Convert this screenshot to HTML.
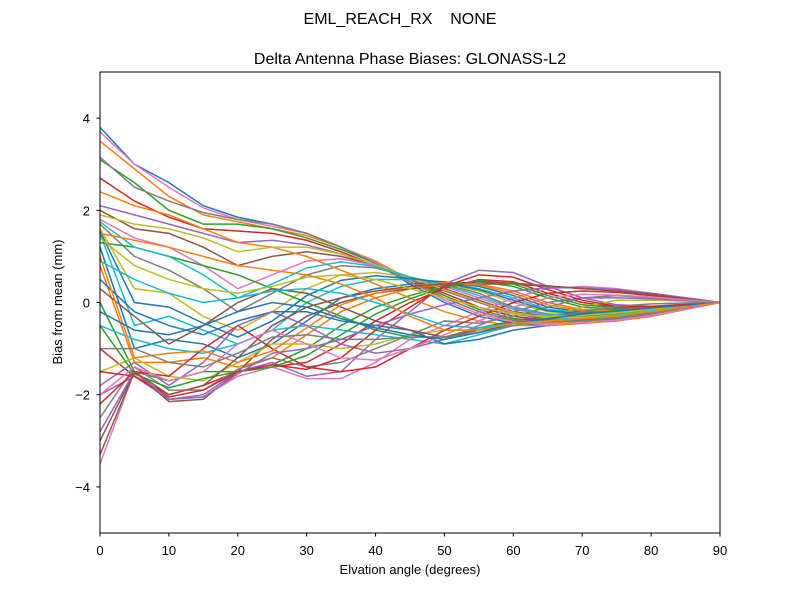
<!DOCTYPE html>
<html><head><meta charset="utf-8"><style>
body{margin:0;background:#fff;font-family:"Liberation Sans",sans-serif;}
svg text{font-family:"Liberation Sans",sans-serif;}
</style></head><body>
<svg id="chart" width="800" height="600" xmlns="http://www.w3.org/2000/svg">
<rect width="800" height="600" fill="#fff"/>
<text x="400" y="24" text-anchor="middle" font-size="16" style="white-space:pre" xml:space="preserve">EML_REACH_RX    NONE</text>
<text x="410" y="64" text-anchor="middle" font-size="16">Delta Antenna Phase Biases: GLONASS-L2</text>
<g id="lines"></g>
<rect x="100" y="72" width="620" height="461" fill="none" stroke="#000" stroke-width="1"/>
<g id="axes"></g>
<text x="410" y="574" text-anchor="middle" font-size="13">Elvation angle (degrees)</text>
<text transform="translate(62,302) rotate(-90)" text-anchor="middle" font-size="13">Bias from mean (mm)</text>
</svg>
<script>
const elevations=[0,5,10,15,20,25,30,35,40,45,50,55,60,65,70,75,80,85,90];
const xTicks=[0,10,20,30,40,50,60,70,80,90];
const yTicks=[-4,-2,0,2,4];
const yTickLabels=["\u22124","\u22122","0","2","4"];
const s1=[3.8,3.0,2.6,2.1,1.85,1.7,1.5,1.2,0.85,0.4,0.0,-0.3,-0.45,-0.5,-0.45,-0.4,-0.3,-0.15,0];
const s2=[3.5,2.9,2.3,1.9,1.75,1.6,1.45,1.2,0.9,0.5,0.1,-0.2,-0.4,-0.45,-0.4,-0.35,-0.25,-0.12,0];
const s3=[3.1,2.6,2.0,1.7,1.7,1.6,1.4,1.15,0.85,0.5,0.15,-0.15,-0.35,-0.4,-0.38,-0.32,-0.22,-0.1,0];
const s4=[2.7,2.2,1.85,1.6,1.55,1.5,1.35,1.1,0.8,0.5,0.2,-0.1,-0.3,-0.38,-0.35,-0.3,-0.2,-0.1,0];
const s5=[2.1,1.9,1.7,1.5,1.3,1.35,1.25,1.05,0.8,0.5,0.25,0,-0.25,-0.35,-0.33,-0.28,-0.2,-0.1,0];
const s6=[2.0,1.6,1.5,1.2,0.8,1.0,1.1,1.0,0.8,0.55,0.3,0.05,-0.2,-0.3,-0.3,-0.26,-0.18,-0.08,0];
const s7=[1.8,1.4,1.2,0.8,0.3,0.6,0.9,0.95,0.8,0.55,0.35,0.1,-0.15,-0.28,-0.28,-0.24,-0.17,-0.08,0];
const s8=[1.7,1.0,0.7,0.3,-0.2,0.2,0.6,0.8,0.75,0.55,0.4,0.2,-0.1,-0.25,-0.26,-0.22,-0.15,-0.07,0];
const s9=[1.6,0.3,0.2,-0.3,-0.6,-0.2,0.3,0.6,0.65,0.55,0.4,0.25,0,-0.2,-0.25,-0.2,-0.14,-0.07,0];
const s10=[1.5,-0.5,-0.3,-0.6,-0.9,-0.6,0,0.35,0.5,0.5,0.45,0.3,0.1,-0.15,-0.22,-0.2,-0.14,-0.07,0];
const s11=[1.2,-1.0,-0.8,-0.9,-1.2,-0.9,-0.4,0.1,0.3,0.4,0.45,0.35,0.15,-0.1,-0.2,-0.18,-0.13,-0.06,0];
const s12=[0.8,-1.3,-1.3,-1.2,-1.4,-1.2,-0.7,-0.2,0.1,0.3,0.4,0.4,0.25,0,-0.15,-0.17,-0.12,-0.06,0];
const s13=[0.0,-1.5,-1.7,-1.5,-1.5,-1.35,-1.0,-0.5,-0.1,0.15,0.35,0.45,0.35,0.1,-0.1,-0.15,-0.11,-0.05,0];
const s14=[-1.0,-1.6,-2.0,-1.8,-1.5,-1.4,-1.3,-0.9,-0.4,0,0.3,0.5,0.45,0.2,0,-0.1,-0.1,-0.05,0];
const s15=[-2.0,-1.6,-2.1,-2.0,-1.5,-1.3,-1.6,-1.5,-0.8,-0.2,0.4,0.7,0.65,0.35,0.1,-0.05,-0.08,-0.04,0];
const s16=[-3.0,-1.5,-2.15,-2.1,-1.5,-0.8,-0.3,0,0.2,0.3,0.35,0.4,0.4,0.35,0.3,0.25,0.2,0.1,0];
const s17=[-3.5,-1.5,-2.1,-2.05,-1.6,-1.4,-1.65,-1.65,-1.3,-0.8,-0.5,-0.2,0.1,0.3,0.35,0.3,0.2,0.1,0];
const s18=[-2.5,-1.4,-1.9,-1.9,-1.45,-1.2,-1.4,-1.3,-1.0,-0.7,-0.4,-0.45,-0.3,-0.1,0.1,0.15,0.1,0.05,0];
const s19=[-1.5,-1.2,-1.6,-1.7,-1.3,-0.9,-0.9,-1.0,-0.9,-0.7,-0.6,-0.6,-0.5,-0.3,-0.1,0.05,0.05,0.03,0];
const s20=[-0.5,-0.8,-1.0,-1.1,-0.9,-0.6,-0.5,-0.6,-0.7,-0.8,-0.9,-0.7,-0.5,-0.4,-0.3,-0.2,-0.1,-0.05,0];
const s21=[0.5,-0.2,-0.5,-0.7,-0.4,-0.2,-0.2,-0.4,-0.5,-0.6,-0.9,-0.8,-0.6,-0.5,-0.45,-0.35,-0.25,-0.1,0];
const s22=[2.4,2.1,1.9,1.6,1.3,1.2,1.0,0.7,0.4,0.1,-0.2,-0.4,-0.5,-0.5,-0.45,-0.4,-0.3,-0.15,0];
const s23=[1.3,1.2,1.0,0.8,0.6,0.3,0.0,-0.3,-0.6,-0.75,-0.75,-0.55,-0.4,-0.35,-0.3,-0.25,-0.18,-0.09,0];
const s24=[-2.2,-1.5,-1.6,-1.0,-0.5,-1.0,-1.4,-1.5,-1.4,-1.0,-0.6,-0.3,0,0.2,0.25,0.22,0.15,0.07,0];
const s25=[-1.8,-1.3,-1.8,-1.3,-0.5,-0.2,-0.5,-0.9,-1.1,-1.0,-0.8,-0.5,-0.2,0,0.1,0.1,0.08,0.04,0];
const s26=[0.3,-0.3,-0.9,-0.5,0.0,0.3,0.2,-0.1,-0.4,-0.6,-0.75,-0.6,-0.4,-0.3,-0.2,-0.15,-0.1,-0.05,0];
const s27=[3.7,3.0,2.5,2.05,1.8,1.65,1.5,1.2,0.88,0.45,0.05,-0.25,-0.42,-0.48,-0.43,-0.38,-0.28,-0.14,0];
const s28=[3.15,2.5,2.2,1.95,1.8,1.7,1.5,1.2,0.85,0.45,0.1,-0.2,-0.38,-0.42,-0.4,-0.34,-0.24,-0.12,0];
const s29=[1.9,1.7,1.6,1.4,1.1,1.2,1.2,1.05,0.82,0.55,0.28,0.02,-0.22,-0.33,-0.32,-0.27,-0.19,-0.09,0];
const s30=[1.75,1.2,1.0,0.6,0.1,0.4,0.75,0.88,0.78,0.55,0.38,0.15,-0.12,-0.27,-0.27,-0.23,-0.16,-0.08,0];
const s31=[1.55,0.0,-0.1,-0.45,-0.75,-0.4,0.15,0.48,0.58,0.52,0.43,0.28,0.05,-0.18,-0.24,-0.2,-0.14,-0.07,0];
const s32=[1.0,-1.2,-1.1,-1.05,-1.3,-1.05,-0.55,-0.05,0.2,0.35,0.43,0.38,0.2,-0.05,-0.18,-0.17,-0.12,-0.06,0];
const s33=[-0.5,-1.55,-1.85,-1.65,-1.5,-1.4,-1.15,-0.7,-0.25,0.08,0.33,0.48,0.4,0.15,-0.05,-0.12,-0.1,-0.05,0];
const s34=[-1.5,-1.6,-2.05,-1.9,-1.5,-1.35,-1.45,-1.2,-0.6,-0.1,0.35,0.6,0.55,0.28,0.05,-0.08,-0.09,-0.04,0];
const s35=[-2.8,-1.5,-2.1,-2.05,-1.55,-1.1,-1.0,-0.8,-0.5,-0.25,-0.05,0.1,0.25,0.32,0.32,0.28,0.2,0.1,0];
const s36=[-3.3,-1.5,-2.0,-1.8,-1.2,-0.5,-0.1,0.1,0.25,0.35,0.4,0.45,0.42,0.36,0.3,0.25,0.18,0.09,0];
const s37=[-2.0,-1.4,-1.7,-1.5,-0.9,-0.6,-0.9,-1.2,-1.25,-1.0,-0.7,-0.4,-0.1,0.1,0.18,0.16,0.12,0.06,0];
const s38=[-1.0,-1.0,-1.3,-1.4,-1.1,-0.75,-0.7,-0.8,-0.8,-0.75,-0.75,-0.65,-0.5,-0.35,-0.2,-0.08,-0.03,-0.01,0];
const s39=[1.4,0.8,0.5,0.3,0.2,0.35,0.55,0.6,0.5,0.3,0.1,-0.1,-0.25,-0.3,-0.28,-0.22,-0.15,-0.07,0];
const s40=[0.9,0.5,0.2,0,0.1,0.25,0.3,0.2,0,-0.25,-0.5,-0.55,-0.45,-0.4,-0.35,-0.28,-0.2,-0.1,0];
const s41=[-0.2,-0.6,-0.7,-0.5,-0.2,0,-0.1,-0.35,-0.55,-0.7,-0.8,-0.65,-0.45,-0.35,-0.25,-0.18,-0.12,-0.06,0];
const s42=[1.5,1.35,1.2,1.0,0.8,0.7,0.6,0.4,0.1,-0.3,-0.6,-0.6,-0.45,-0.4,-0.35,-0.3,-0.2,-0.1,0];
const series=[s1,s2,s3,s4,s5,s6,s7,s8,s9,s10,s11,s12,s13,s14,s15,s16,s17,s18,s19,s20,s21,s22,s23,s24,s25,s26,s27,s28,s29,s30,s31,s32,s33,s34,s35,s36,s37,s38,s39,s40,s41,s42];
const colors=["#1f77b4","#ff7f0e","#2ca02c","#d62728","#9467bd","#8c564b","#e377c2","#7f7f7f","#bcbd22","#17becf"];
const NS="http://www.w3.org/2000/svg";
const X=v=>100+(v-0)/90*620;
const Y=v=>302.5-v*46.1;
const lg=document.getElementById('lines');
series.forEach((s,i)=>{
  const p=document.createElementNS(NS,'polyline');
  p.setAttribute('points',s.map((v,j)=>X(elevations[j])+','+Y(v)).join(' '));
  p.setAttribute('fill','none');p.setAttribute('stroke',colors[i%10]);p.setAttribute('stroke-width','1.5');
  
  
  lg.appendChild(p);
});
const ax=document.getElementById('axes');
xTicks.forEach(t=>{
  const l=document.createElementNS(NS,'line');
  l.setAttribute('x1',X(t));l.setAttribute('x2',X(t));l.setAttribute('y1',533);l.setAttribute('y2',536.5);l.setAttribute('stroke','#000');
  
  
  ax.appendChild(l);
  const tx=document.createElementNS(NS,'text');
  tx.setAttribute('x',X(t));tx.setAttribute('y',555);tx.setAttribute('text-anchor','middle');tx.setAttribute('font-size','13');
  tx.textContent=t;
  
  
  ax.appendChild(tx);
});
yTicks.forEach((t,i)=>{
  const l=document.createElementNS(NS,'line');
  l.setAttribute('x1',96.5);l.setAttribute('x2',100);l.setAttribute('y1',Y(t));l.setAttribute('y2',Y(t));l.setAttribute('stroke','#000');
  
  
  ax.appendChild(l);
  const tx=document.createElementNS(NS,'text');
  tx.setAttribute('x',90);tx.setAttribute('y',Y(t)+5);tx.setAttribute('text-anchor','end');tx.setAttribute('font-size','13');
  tx.textContent=yTickLabels[i];
  
  
  ax.appendChild(tx);
});
</script>
</body></html>
